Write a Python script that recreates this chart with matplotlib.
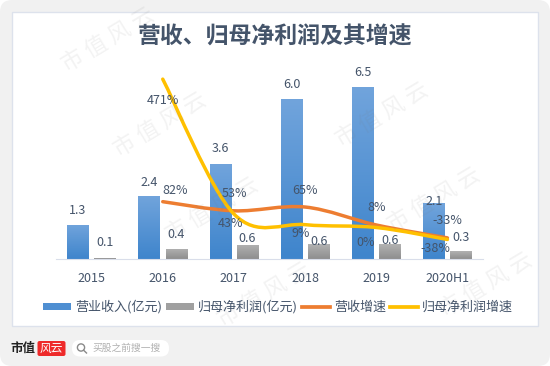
import numpy as np
import matplotlib
matplotlib.use("Agg")
from matplotlib import pyplot as plt
from matplotlib.path import Path
from matplotlib.patches import PathPatch, FancyBboxPatch, Rectangle, Patch, Circle
from matplotlib.lines import Line2D

plt.rcParams['font.family'] = ['Noto Sans CJK SC', 'DejaVu Sans']

# data
years = ["2015", "2016", "2017", "2018", "2019", "2020H1"]
revenue = [1.3, 2.38, 3.6, 6.04, 6.5, 2.1]
profit = [0.05, 0.38, 0.54, 0.55, 0.55, 0.3]
revenue_labels = ["1.3", "2.4", "3.6", "6.0", "6.5", "2.1"]
profit_labels = ["0.1", "0.4", "0.6", "0.6", "0.6", "0.3"]
rev_growth = [82, 53, 65, 8, -33]
profit_growth = [471, 43, 9, 0, -38]
rev_growth_labels = ["82%", "53%", "65%", "8%", "-33%"]
profit_growth_labels = ["471%", "43%", "9%", "0%", "-38%"]

# label offsets in px from the point
rev_off = [(12, 11), (0, 17), (0, 17), (0, 17), (0, 17)]
prof_off = [(0, -21), (-3, -10), (-4, -9), (-11, -15), (-12, -9)]
rev_bar_off = [14, 13, 15, 14, 14, 2]
prof_bar_off = [15, 14, 6, 3, 4, 14]
LABEL_SIZE = 9

TXT = "#44546a"
W, H = 550, 366

fig = plt.figure(figsize=(5.5, 3.66), dpi=100, facecolor="white")

# page background, px coordinates
bg = fig.add_axes([0, 0, 1, 1], zorder=0)
bg.set_xlim(0, W)
bg.set_ylim(H, 0)
bg.axis("off")
bg.add_patch(FancyBboxPatch((0, 0), W, H, boxstyle="round,pad=0,rounding_size=12",
                            fc="#f1f1f1", ec="none"))
bg.add_patch(Rectangle((12, 12), 526, 314, fc="white", ec="#dde2ec", lw=1))

# footer
bg.text(23, 348, "市值", fontsize=9, fontweight="bold", color="#222222", ha="center", va="center")
bg.add_patch(FancyBboxPatch((37.5, 341), 28, 15, boxstyle="round,pad=0,rounding_size=2",
                            fc="#ee2a2a", ec="none"))
bg.text(51.5, 348, "风云", fontsize=8.5, color="white", ha="center", va="center", style="italic")
bg.add_patch(FancyBboxPatch((72, 340), 97, 16.5, boxstyle="round,pad=0,rounding_size=8",
                            fc="white", ec="none"))
bg.add_patch(Circle((81, 347.5), 3.6, fc="none", ec="#8a8a8a", lw=1))
bg.plot([83.6, 86.5], [350.2, 353], color="#8a8a8a", lw=1)
bg.text(126.5, 348, "买股之前搜一搜", fontsize=7, color="#b0b0b0", ha="center", va="center")

# chart axes: baseline at y=259, top at y=70
left, right, top, bottom = 56, 483, 70, 259
ax = fig.add_axes([left / W, 1 - bottom / H, (right - left) / W, (bottom - top) / H], zorder=1)
ax.patch.set_alpha(0)
ax.set_xlim(-0.5, 5.5)
ax.set_ylim(0, (bottom - top) / 26.5)
for s in ["top", "left", "right"]:
    ax.spines[s].set_visible(False)
ax.spines["bottom"].set_color("#d9deea")
ax.set_yticks([])
x = np.arange(len(years))
ax.set_xticks(x)
ax.set_xticklabels(years, fontsize=LABEL_SIZE, color=TXT)
ax.tick_params(axis="x", length=0, pad=9)


def gradient_bars(bars, c_top, c_bottom):
    # fill each bar with a vertical gradient
    cm = matplotlib.colors.LinearSegmentedColormap.from_list("g", [c_top, c_bottom])
    for b in bars:
        im = ax.imshow(np.linspace(0, 1, 64).reshape(-1, 1), cmap=cm, aspect="auto", zorder=2,
                       extent=[b.get_x(), b.get_x() + b.get_width(), 0, b.get_height()])
        im.set_clip_path(b)
    ax.set_xlim(-0.5, 5.5)
    ax.set_ylim(0, (bottom - top) / 26.5)


bw = 21.5 / 71
off = 13.5 / 71
bars1 = ax.bar(x - off, revenue, bw, color="#5b9bd5", zorder=2)
bars2 = ax.bar(x + off, profit, bw, color="#a5a5a5", zorder=2)
gradient_bars(bars1, "#71a4dc", "#3f85cc")
gradient_bars(bars2, "#b2b2b2", "#8e8e8e")

for xi, v, t, o in zip(x - off, revenue, revenue_labels, rev_bar_off):
    ax.annotate(t, (xi, v), xytext=(0, o * 0.72), textcoords="offset points", fontsize=LABEL_SIZE,
                color=TXT, ha="center", va="center", zorder=8)
for xi, v, t, o in zip(x + off, profit, profit_labels, prof_bar_off):
    ax.annotate(t, (xi, v), xytext=(0, o * 0.72), textcoords="offset points", fontsize=LABEL_SIZE,
                color=TXT, ha="center", va="center", zorder=8)

# growth lines on the second axis
ax2 = ax.twinx()
ax2.set_ylim(-100, 500)
ax2.axis("off")
ax2.set_zorder(ax.get_zorder() + 1)


def smooth_path(xs, ys):
    # excel style smooth line: catmull-rom as bezier segments
    xs = np.asarray(xs, dtype=float)
    ys = np.asarray(ys, dtype=float)
    verts = [(xs[0], ys[0])]
    codes = [Path.MOVETO]
    n = len(xs)
    for i in range(n - 1):
        a = max(i - 1, 0)
        b = min(i + 2, n - 1)
        verts.append((xs[i] + (xs[i + 1] - xs[a]) / 6, ys[i] + (ys[i + 1] - ys[a]) / 6))
        verts.append((xs[i + 1] - (xs[b] - xs[i]) / 6, ys[i + 1] - (ys[b] - ys[i]) / 6))
        verts.append((xs[i + 1], ys[i + 1]))
        codes += [Path.CURVE4] * 3
    return Path(verts, codes)


xg = x[1:]
ax2.add_patch(PathPatch(smooth_path(xg, rev_growth), fc="none", ec="#ed7d31", lw=2.5, capstyle="round", zorder=4))
ax2.add_patch(PathPatch(smooth_path(xg, profit_growth), fc="none", ec="#ffc000", lw=2.5, capstyle="round", zorder=5))

for xi, v, t, o in zip(xg, rev_growth, rev_growth_labels, rev_off):
    ax2.annotate(t, (xi, v), xytext=(o[0] * 0.72, o[1] * 0.72), textcoords="offset points", fontsize=LABEL_SIZE,
                 color=TXT, ha="center", va="center", zorder=8)
for xi, v, t, o in zip(xg, profit_growth, profit_growth_labels, prof_off):
    ax2.annotate(t, (xi, v), xytext=(o[0] * 0.72, o[1] * 0.72), textcoords="offset points", fontsize=LABEL_SIZE,
                 color=TXT, ha="center", va="center", zorder=8)

# title + legend
fig.text(275 / W, 1 - 37.5 / H, "营收、归母净利润及其增速", fontsize=16.5, color=TXT,
         ha="center", va="center", fontweight="bold")
handles = [Patch(fc="#4f8fd2", ec="none"), Patch(fc="#a0a0a0", ec="none"),
           Line2D([], [], color="#ed7d31", lw=2.7), Line2D([], [], color="#ffc000", lw=2.7)]
names = ["营业收入(亿元)", "归母净利润(亿元)", "营收增速", "归母净利润增速"]
leg = fig.legend(handles, names, ncol=4, loc="center", bbox_to_anchor=(278 / W, 1 - 307 / H), frameon=False,
                 fontsize=9.4, labelcolor=TXT, handlelength=2.15, handletextpad=0.3, columnspacing=0.3,
                 borderpad=0, handleheight=0.5)

# watermark lattice on top, only the ones that fit on the page
wm = fig.add_axes([0, 0, 1, 1], zorder=5)
wm.set_xlim(0, W)
wm.set_ylim(H, 0)
wm.axis("off")
for i in range(-2, 5):
    for j in range(-1, 6):
        cx = 108 + 222 * i + 52 * j
        cy = 40 - 10 * i + 85 * j
        if 50 < cx < 500 and 35 < cy < 331:
            wm.text(cx, cy, "市 值 风 云", fontsize=16, rotation=31, color="#777777", alpha=0.09,
                    ha="center", va="center", rotation_mode="anchor")

fig.savefig("out.png", dpi=100)
